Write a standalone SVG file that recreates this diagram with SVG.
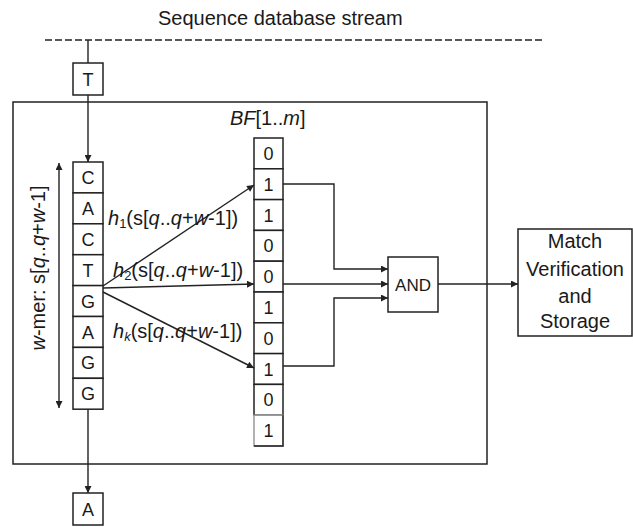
<svg xmlns="http://www.w3.org/2000/svg" width="633" height="527" viewBox="0 0 633 527">
<style>
text{font-family:"Liberation Sans",Arial,sans-serif;fill:#1a1a1a}
.lbl{font-size:20px}
.cell{font-size:18px;text-anchor:middle}
.box{fill:#fff;stroke:#222;stroke-width:1.5}
.ln{fill:none;stroke:#222;stroke-width:1.4}
.it{font-style:italic}
.sub{font-size:13px}
</style>
<defs>
<marker id="ah" viewBox="0 0 10 10" refX="10" refY="5" markerWidth="8" markerHeight="7" markerUnits="userSpaceOnUse" orient="auto-start-reverse">
<path d="M0,0 L10,5 L0,10 z" fill="#222"/>
</marker>
</defs>
<text id="title" class="lbl" x="158" y="25">Sequence database stream</text>
<g id="outer"><rect class="box" x="13" y="102" width="474" height="362" style="fill:none"/></g>
<g id="t-in"><rect class="box" x="73" y="63" width="30" height="32"/><text class="cell" x="88" y="85.5">T</text></g>
<g id="a-out"><rect class="box" x="73" y="493" width="30" height="32"/><text class="cell" x="88" y="515.5">A</text></g>
<g id="wmer">
<rect class="box" x="73" y="162" width="30" height="30.9"/><text class="cell" x="88" y="184">C</text>
<rect class="box" x="73" y="192.9" width="30" height="30.9"/><text class="cell" x="88" y="214.9">A</text>
<rect class="box" x="73" y="223.8" width="30" height="30.9"/><text class="cell" x="88" y="245.8">C</text>
<rect class="box" x="73" y="254.7" width="30" height="30.9"/><text class="cell" x="88" y="276.7">T</text>
<rect class="box" x="73" y="285.6" width="30" height="30.9"/><text class="cell" x="88" y="307.6">G</text>
<rect class="box" x="73" y="316.5" width="30" height="30.9"/><text class="cell" x="88" y="338.5">A</text>
<rect class="box" x="73" y="347.4" width="30" height="30.9"/><text class="cell" x="88" y="369.4">G</text>
<rect class="box" x="73" y="378.3" width="30" height="30.9"/><text class="cell" x="88" y="400.3">G</text>
</g>
<g id="bf">
<text class="lbl" x="230" y="125"><tspan class="it">BF</tspan>[1..<tspan class="it">m</tspan>]</text>
<rect class="box" x="254" y="138" width="29" height="30.8"/><text class="cell" x="268.5" y="160">0</text>
<rect class="box" x="254" y="168.8" width="29" height="30.8"/><text class="cell" x="268.5" y="190.8">1</text>
<rect class="box" x="254" y="199.6" width="29" height="30.8"/><text class="cell" x="268.5" y="221.6">1</text>
<rect class="box" x="254" y="230.4" width="29" height="30.8"/><text class="cell" x="268.5" y="252.4">0</text>
<rect class="box" x="254" y="261.2" width="29" height="30.8"/><text class="cell" x="268.5" y="283.2">0</text>
<rect class="box" x="254" y="292" width="29" height="30.8"/><text class="cell" x="268.5" y="314">1</text>
<rect class="box" x="254" y="322.8" width="29" height="30.8"/><text class="cell" x="268.5" y="344.8">0</text>
<rect class="box" x="254" y="353.6" width="29" height="30.8"/><text class="cell" x="268.5" y="375.6">1</text>
<rect class="box" x="254" y="384.4" width="29" height="30.8"/><text class="cell" x="268.5" y="406.4">0</text>
<rect class="box" x="254" y="415.2" width="29" height="30.8" style="stroke:#999"/>
<path class="ln" d="M283,415.2 V446 H254"/>
<text class="cell" x="268.5" y="437.2">1</text>
</g>
<g id="and"><rect class="box" x="388" y="257" width="50" height="55"/><text class="cell" x="413" y="290.5" style="font-size:17px">AND</text></g>
<g id="match"><rect class="box" x="518" y="229" width="114" height="107"/>
<text class="lbl" text-anchor="middle" x="575" y="248">Match</text>
<text class="lbl" text-anchor="middle" x="575" y="276">Verification</text>
<text class="lbl" text-anchor="middle" x="575" y="303">and</text>
<text class="lbl" text-anchor="middle" x="575" y="328">Storage</text>
</g>
<g id="wmer-label">
<path class="ln" d="M59,163 V408" marker-start="url(#ah)" marker-end="url(#ah)"/>
<text class="lbl" text-anchor="middle" transform="translate(45,268) rotate(-90)"><tspan class="it">w</tspan>-mer: s[<tspan class="it">q</tspan>..<tspan class="it">q</tspan>+<tspan class="it">w</tspan>-1]</text>
</g>
<g id="connectors">
<path class="ln" d="M45,40 H543" stroke-dasharray="7,3"/>
<path class="ln" d="M88,40 V63"/>
<path class="ln" d="M88,95 V162" marker-end="url(#ah)"/>
<path class="ln" d="M88,409 V493" marker-end="url(#ah)"/>
<path class="ln" d="M103,286 L254,185" marker-end="url(#ah)"/>
<path class="ln" d="M103,288 L254,284" marker-end="url(#ah)"/>
<path class="ln" d="M103,292 L254,368" marker-end="url(#ah)"/>
<path class="ln" d="M283,184 H334 V269 H388" marker-end="url(#ah)"/>
<path class="ln" d="M283,284 H388" marker-end="url(#ah)"/>
<path class="ln" d="M283,366 H334 V298 H388" marker-end="url(#ah)"/>
<path class="ln" d="M438,284 H518" marker-end="url(#ah)"/>
</g>
<g id="hash-labels">
<text class="lbl" x="108" y="225"><tspan class="it">h</tspan><tspan class="sub" dy="3">1</tspan><tspan dy="-3">(s[</tspan><tspan class="it">q</tspan>..<tspan class="it">q</tspan>+<tspan class="it">w</tspan>-1])</text>
<text class="lbl" x="113" y="277"><tspan class="it">h</tspan><tspan class="sub" dy="3">2</tspan><tspan dy="-3">(s[</tspan><tspan class="it">q</tspan>..<tspan class="it">q</tspan>+<tspan class="it">w</tspan>-1])</text>
<text class="lbl" x="113" y="338"><tspan class="it">h</tspan><tspan class="sub it" dy="3">k</tspan><tspan dy="-3">(s[</tspan><tspan class="it">q</tspan>..<tspan class="it">q</tspan>+<tspan class="it">w</tspan>-1])</text>
</g>
</svg>
